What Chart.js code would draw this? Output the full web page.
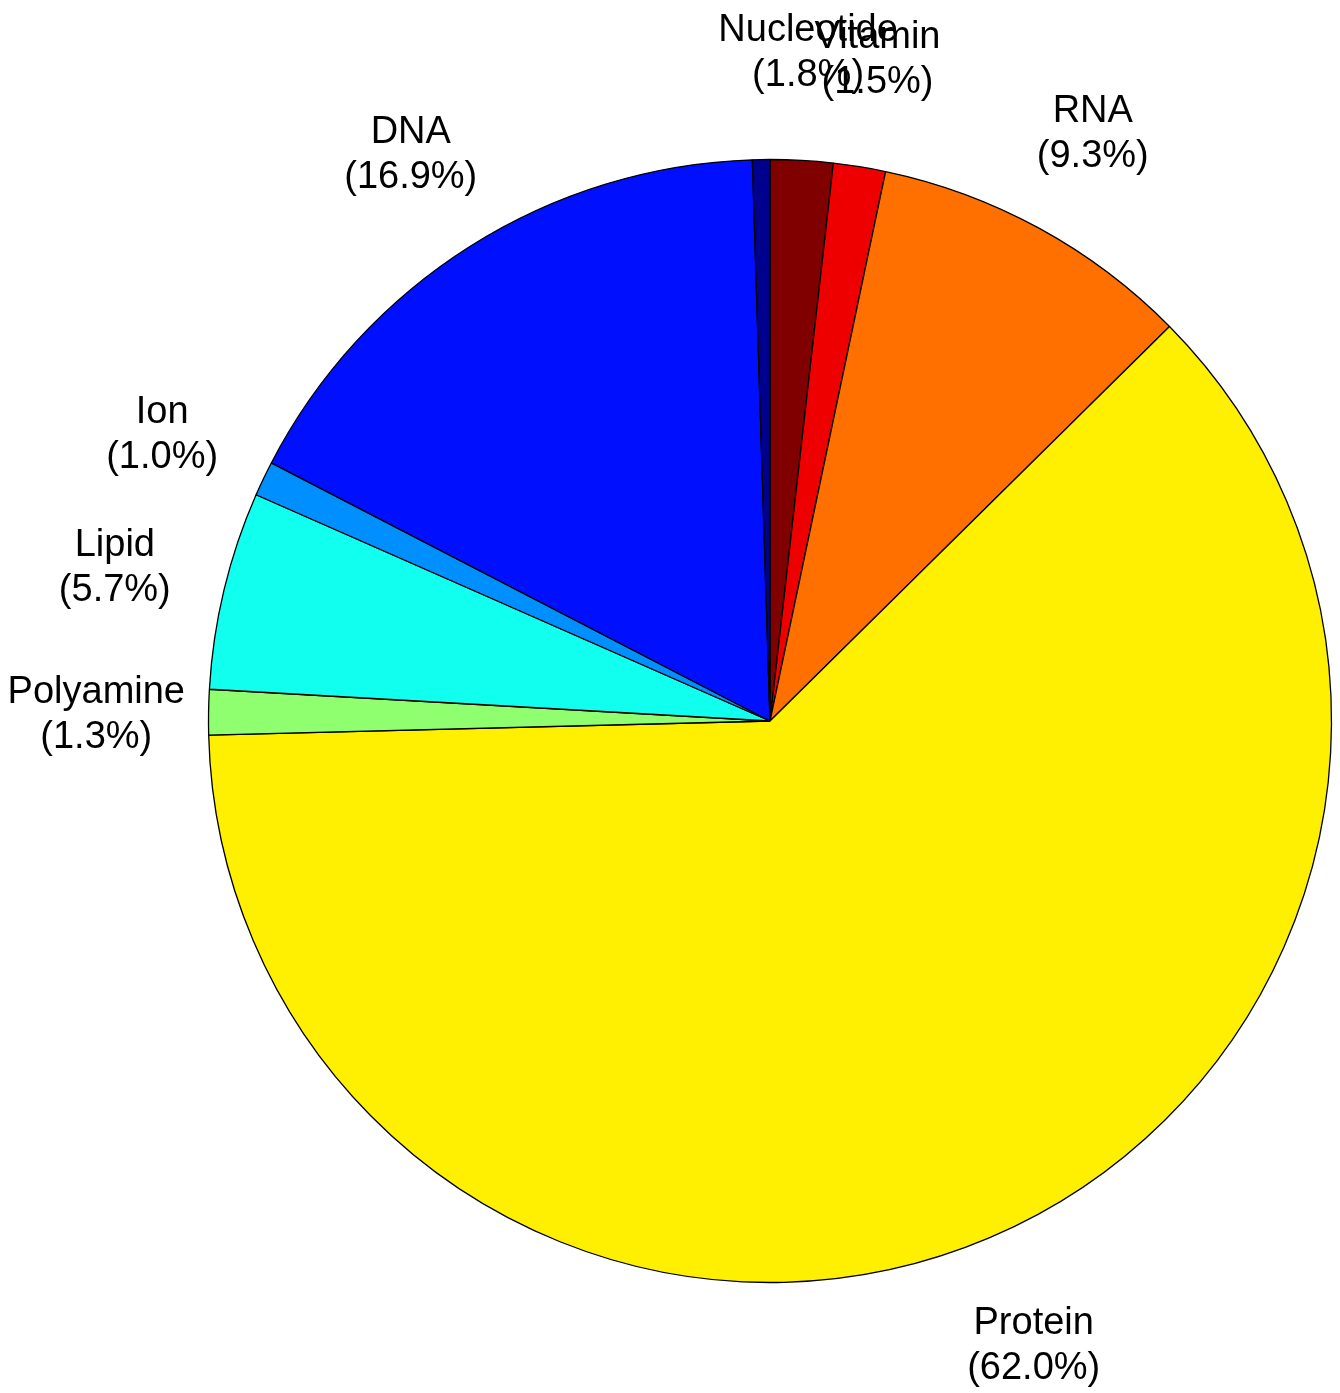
<!DOCTYPE html>
<html>
<head>
<meta charset="utf-8">
<script src="https://cdn.jsdelivr.net/npm/chart.js@4"></script>
<style>
  html, body { margin: 0; padding: 0; background: #fff; }
  canvas { display: block; }
</style>
</head>
<body>
<canvas id="pieChart" width="1340" height="1393"></canvas>
<script>
// slices, clockwise from 12 o'clock (the last one has no label)
const categories = ['Nucleotide', 'Vitamin', 'RNA', 'Protein', 'Polyamine', 'Lipid', 'Ion', 'DNA', ''];
const shares = [1.8, 1.5, 9.3, 62.0, 1.3, 5.7, 1.0, 16.9, 0.5];
const colors = ['#800000', '#EF0000', '#FF7000', '#FFEF00', '#8FFF70', '#10FFEF', '#008FFF', '#0010FF', '#00008F'];

const FONT = '38px "Liberation Sans", Arial, sans-serif';

// draw "Name\n(xx.x%)" centred at 1.2 x radius on each slice's mid angle
const sliceLabels = {
  id: 'sliceLabels',
  afterDatasetsDraw(chart) {
    const c = chart.ctx;
    const meta = chart.getDatasetMeta(0);
    c.save();
    c.font = FONT;
    c.fillStyle = '#000';
    c.textAlign = 'center';
    c.textBaseline = 'middle';
    meta.data.forEach((arc, i) => {
      if (!categories[i]) return;
      const mid = (arc.startAngle + arc.endAngle) / 2;
      const r = arc.outerRadius * 1.2;
      const x = arc.x + r * Math.cos(mid);
      const y = arc.y + r * Math.sin(mid);
      c.fillText(categories[i], x, y - 18);
      c.fillText(`(${shares[i].toFixed(1)}%)`, x, y + 27);
    });
    c.restore();
  },
};

new Chart(document.getElementById('pieChart').getContext('2d'), {
  type: 'pie',
  data: {
    labels: categories,
    datasets: [{
      data: shares,
      backgroundColor: colors,
      borderColor: '#000',
      borderWidth: 1.3,
    }],
  },
  options: {
    responsive: false,
    animation: false,
    radius: 561.5,
    layout: { padding: { left: 209, right: 9, top: 160, bottom: 111 } },
    plugins: {
      legend: { display: false },
      tooltip: { enabled: false },
    },
  },
  plugins: [sliceLabels],
});
</script>
</body>
</html>
